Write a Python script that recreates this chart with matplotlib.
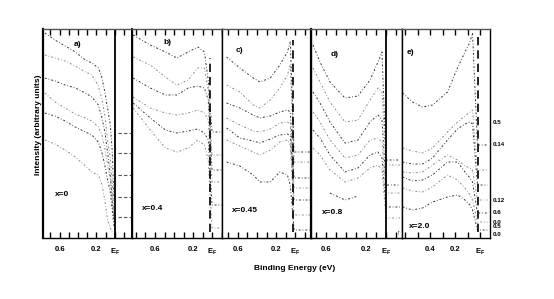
import numpy as np
import matplotlib.pyplot as plt

plt.rcParams['font.family'] = ['Liberation Sans', 'DejaVu Sans']
plt.rcParams['font.weight'] = 'bold'
plt.rcParams['mathtext.default'] = 'regular'

nan = np.nan

#%% data: binding energy (eV) grids and offset spectra (arbitrary units)
be_a = [0.76, 0.65, 0.54, 0.43, 0.32, 0.25, 0.18, 0.14, 0.11, 0.08, 0.05, 0.03, 0.01]
spec_a = [
    [205, 198, 192, 186, 178, 175, 170, 160, 146, 130, 113, 88, 38],
    [183, 180, 177, 172, 166, 163, 152, 138, 123, 98, 80, 56, 23],
    [160, 157, 153, 150, 145, 141, 133, 120, 106, 86, 63, 38, 16],
    [145, 136, 130, 124, 120, 117, 111, 103, 90, 73, 58, 40, 18],
    [125, 122, 117, 111, 106, 103, 96, 85, 73, 58, 46, 28, 12],
    [98, 94, 88, 81, 72, 66, 63, 53, 38, 18, 10, 6, 4],
]
tail_a = [105, 85, 63, 41, 21]

be_b = [0.83, 0.65, 0.49, 0.37, 0.25, 0.15, 0.08, 0.04, 0.0, -0.1]
spec_b = [
    [203, 193, 186, 180, 186, 191, 186, 158, 106, 106],
    [181, 173, 161, 153, 158, 170, 170, 148, 83, 83],
    [160, 150, 143, 143, 150, 152, 150, 138, 68, 68],
    [141, 130, 125, 123, 125, 128, 125, 118, 56, 56],
    [135, 120, 108, 105, 107, 109, 105, 98, 33, 33],
    [130, 108, 90, 86, 90, 98, 93, 78, 10, 10],
]

be_c = [0.72, 0.58, 0.44, 0.37, 0.26, 0.16, 0.08, 0.05, 0.01, -0.16]
spec_c = [
    [181, 170, 160, 156, 160, 173, 186, 196, 86, 86],
    [153, 146, 133, 130, 138, 150, 163, 173, 76, 76],
    [135, 130, 123, 120, 122, 126, 128, 126, 60, 60],
    [120, 113, 107, 106, 109, 115, 116, 114, 50, 50],
    [110, 100, 97, 95, 99, 103, 104, 102, 38, 38],
    [98, 92, 86, 83, 88, 96, 98, 93, 23, 23],
    [76, 72, 63, 56, 56, 66, 63, 53, 8, 8],
]

be_d = [0.73, 0.66, 0.56, 0.41, 0.28, 0.16, 0.08, 0.04, 0.0, -0.14]
spec_d = [
    [193, 176, 156, 140, 142, 158, 176, 186, 78, 78],
    [170, 156, 136, 116, 118, 138, 150, 146, 73, 73],
    [146, 135, 116, 95, 98, 116, 123, 118, 53, 53],
    [126, 116, 98, 80, 83, 98, 100, 96, 45, 45],
    [108, 100, 83, 66, 70, 83, 86, 80, 31, 31],
    [90, 83, 68, 56, 60, 70, 73, 68, 20, 20],
    [nan, nan, 45, 38, 42, nan, nan, nan, nan, nan],
]

be_e = [0.62, 0.54, 0.46, 0.38, 0.26, 0.18, 0.12, 0.08, 0.06, 0.02, -0.06]
spec_e = [
    [145, 136, 131, 133, 146, 170, 186, 196, 205, 93, 93],
    [90, 87, 85, 90, 106, 116, 122, 126, 128, 68, 68],
    [76, 74, 74, 80, 98, 109, 114, 116, 114, 53, 53],
    [66, 65, 66, 73, 83, 78, 72, 70, 68, 38, 38],
    [61, 57, 58, 63, 76, 76, 66, 60, 56, 25, 25],
    [50, 47, 46, 51, 63, 58, 50, 43, 38, 16, 16],
    [31, 28, 30, 36, 41, 43, 38, 33, 28, 8, 8],
]

panel_tags = ["a)", "b)", "c)", "d)", "e)"]
dopings = ["x=0", "x=0.4", "x=0.45", "x=0.8", "x=2.0"]
ticks = [
    [0.7, 0.6, 0.5, 0.4, 0.3, 0.2, 0.1, 0.0, -0.1],
    [0.8, 0.7, 0.6, 0.5, 0.4, 0.3, 0.2, 0.1, 0.0, -0.1],
    [0.7, 0.6, 0.5, 0.4, 0.3, 0.2, 0.1, 0.0, -0.1],
    [0.7, 0.6, 0.5, 0.4, 0.3, 0.2, 0.1, 0.0, -0.1],
    [0.6, 0.5, 0.4, 0.3, 0.2, 0.1, 0.0],
]
tick_text = [
    {0.6: "0.6", 0.2: "0.2", 0.0: "$E_F$"},
    {0.6: "0.6", 0.2: "0.2", 0.0: "$E_F$"},
    {0.6: "0.6", 0.2: "0.2", 0.0: "$E_F$"},
    {0.6: "0.6", 0.2: "0.2", 0.0: "$E_F$"},
    {0.4: "0.4", 0.2: "0.2", 0.0: "$E_F$"},
]
right_labels = ["0.5", "0.14", "0.12", "0.6", "0.0", "0.5", "0.0"]
right_levels = [115, 93, 38, 26, 16, 11, 4]

#%% layout
W, H = 554, 299
fig = plt.figure(figsize=(W / 100, H / 100), dpi=100)

edges = [43, 132, 222, 311, 402, 490]
xlims = [(0.78, -0.185), (0.842, -0.105), (0.768, -0.168), (0.75, -0.16), (0.624, -0.08)]
tag_pos = [(0.41, 194), (0.47, 195), (0.58, 188), (0.51, 183), (0.56, 185)]
dop_pos = [(0.57, 43), (0.62, 30), (0.53, 28), (0.53, 25), (0.48, 12)]
bes = [be_a, be_b, be_c, be_d, be_e]
specs = [spec_a, spec_b, spec_c, spec_d, spec_e]

ls = (0, (2, 2, 0.8, 2))
cols = ["#333333", "#8a8a8a"]

axes = []
for i in range(5):
    ax = fig.add_axes([edges[i] / W, (H - 238) / H, (edges[i + 1] - edges[i]) / W, 209 / H])
    axes.append(ax)
    for k, s in enumerate(specs[i]):
        ax.plot(bes[i], s, ls=ls, lw=0.7, color=cols[k % 2])
    ax.set_xlim(*xlims[i])
    ax.set_ylim(0, 209)
    ax.set_yticks([])
    ax.set_xticks(ticks[i])
    ax.set_xticklabels([tick_text[i].get(round(t, 2), "") for t in ticks[i]])
    ax.tick_params(axis="x", direction="in", top=True, length=4, width=1.0,
                   labelsize=5.5, pad=6)
    for sp in ax.spines.values():
        sp.set_linewidth(1.0)
    ax.spines["top"].set_color("#555555")
    ax.text(*tag_pos[i], panel_tags[i], fontsize=6, ha="center", va="center")
    ax.text(*dop_pos[i], dopings[i], fontsize=6, ha="center", va="center")

axes[0].spines["left"].set_linewidth(1.6)
axes[0].spines["right"].set_linewidth(1.4)
axes[2].spines["right"].set_linewidth(1.6)

# Fermi level lines
axes[0].axvline(0.0, color="black", lw=1.3)
axes[3].axvline(0.0, color="black", lw=1.3)
for ax, x0, top in [(axes[1], 0.02, 180), (axes[2], 0.02, 198), (axes[4], 0.016, 203)]:
    ax.plot([x0, x0], [6, top], ls=(0, (5, 3)), color="black", lw=1.2)

# curve tails above E_F in panel a
for lv in tail_a:
    axes[0].plot([-0.03, -0.17], [lv, lv], ls=(0, (3, 2)), lw=0.8, color="#555555")

axes[3].text(-0.12, 5, "↑", fontsize=5, ha="center", va="center")

for lab, lv in zip(right_labels, right_levels):
    axes[4].text(-0.1, lv, lab, fontsize=4.5, ha="left", va="center", clip_on=False)

fig.text(38 / W, 1 - 125 / H, "Intensity (arbitrary units)", rotation=90,
         ha="center", va="center", fontsize=6)
fig.text(295 / W, 1 - 268 / H, "Binding Energy (eV)", ha="center", va="center", fontsize=6)

fig.savefig("out.png", dpi=100)
